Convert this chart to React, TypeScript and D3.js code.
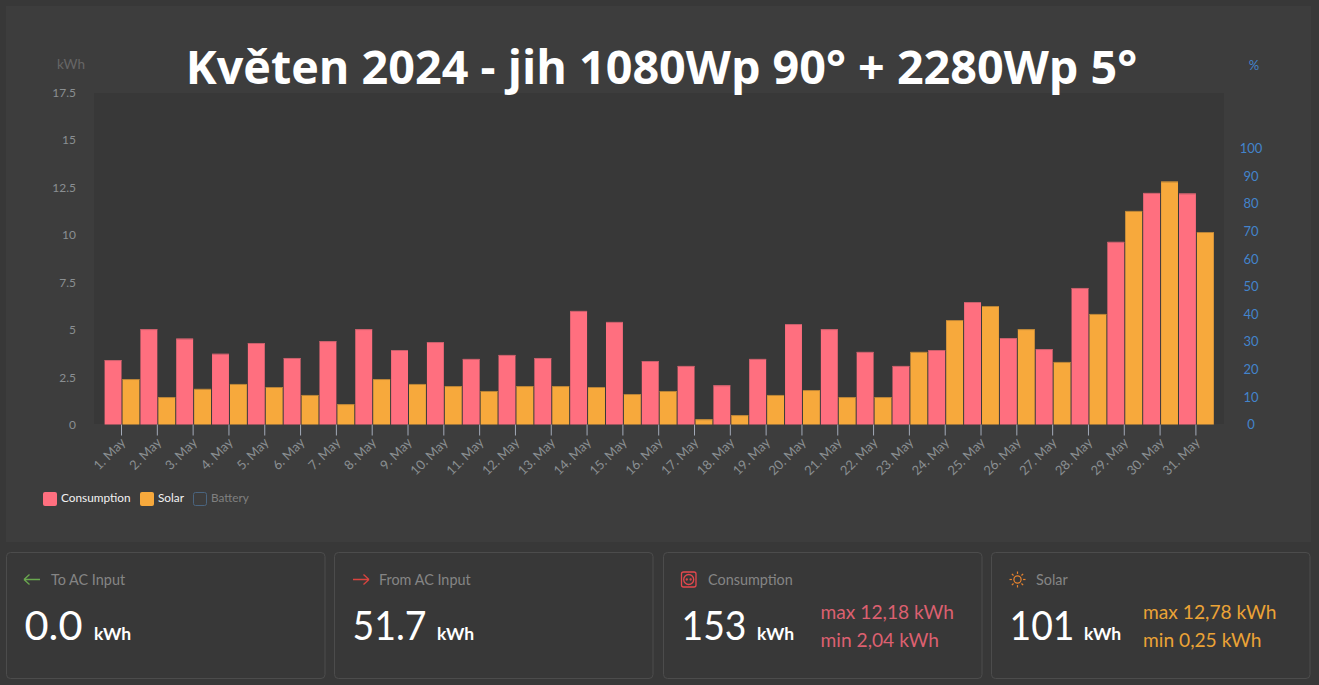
import React, { useEffect, useRef } from 'react'
import * as d3 from 'd3'

const days = d3.range(1, 32).map((d) => `${d}. May`)
const consumption = [
  3.37, 5.0, 4.5, 3.7, 4.27, 3.48, 4.37, 5.0, 3.9, 4.32, 3.43, 3.64, 3.48, 5.96, 5.38, 3.32, 3.06, 2.04, 3.43, 5.27,
  5.0, 3.8, 3.06, 3.9, 6.43, 4.53, 3.95, 7.17, 9.6, 12.18, 12.15,
]
const solar = [
  2.37, 1.42, 1.85, 2.11, 1.95, 1.53, 1.05, 2.37, 2.11, 2.0, 1.74, 2.0, 2.0, 1.95, 1.58, 1.74, 0.25, 0.47, 1.53, 1.79,
  1.42, 1.42, 3.8, 5.48, 6.22, 5.0, 3.27, 5.8, 11.23, 12.78, 10.12,
]
const kwhTicks = [0, 2.5, 5, 7.5, 10, 12.5, 15, 17.5]
const pctTicks = [0, 10, 20, 30, 40, 50, 60, 70, 80, 90, 100]
const series = [
  { name: 'Consumption', values: consumption, color: '#ff6f7f', edge: '#c9606c' },
  { name: 'Solar', values: solar, color: '#f7a93c', edge: '#b98438' },
]
const cards = [
  { x: 6, label: 'To AC Input', value: '0.0', valueWidth: 58, unitX: 88, icon: 'left' },
  { x: 334, label: 'From AC Input', value: '51.7', valueWidth: 74, unitX: 103, icon: 'right' },
  { x: 663, label: 'Consumption', value: '153', valueWidth: 65, unitX: 94, icon: 'plug', max: 'max 12,18 kWh', min: 'min 2,04 kWh', tone: '#dc6070' },
  { x: 991, label: 'Solar', value: '101', valueWidth: 65, unitX: 93, icon: 'sun', max: 'max 12,78 kWh', min: 'min 0,25 kWh', tone: '#eba336' },
]

const FONT = 'Lato, "Open Sans", sans-serif'

export default function App() {
  const ref = useRef<SVGSVGElement | null>(null)

  useEffect(() => {
    if (!ref.current) return
    const svg = d3.select(ref.current)
    svg.selectAll('*').remove()
    svg.attr('font-family', FONT)

    svg.append('rect').attr('width', 1319).attr('height', 685).attr('fill', '#383838')
    svg.append('rect').attr('x', 6).attr('y', 6).attr('width', 1305).attr('height', 536).attr('fill', '#3d3d3d')
    svg.append('rect').attr('x', 94).attr('y', 93).attr('width', 1130).attr('height', 331).attr('fill', '#383838')

    const x = d3.scaleBand<string>().domain(days).range([103.6, 1213.8])
    const inner = d3.scaleBand<string>().domain(series.map((s) => s.name)).range([0, x.bandwidth()])
    const y = d3.scaleLinear().domain([0, 17.5]).range([424, 92])
    const yPct = d3.scaleLinear().domain([0, 100]).range([424, 148])

    // bars
    series.forEach((s) => {
      const g = svg.append('g')
      g.selectAll('rect.bar')
        .data(s.values)
        .join('rect')
        .attr('class', 'bar')
        .attr('x', (_, i) => (x(days[i]) as number) + (inner(s.name) as number) + 1)
        .attr('y', (d) => y(d))
        .attr('width', inner.bandwidth() - 1)
        .attr('height', (d) => 424.5 - y(d))
        .attr('fill', s.color)
      g.selectAll('line.top')
        .data(s.values)
        .join('line')
        .attr('class', 'top')
        .attr('x1', (_, i) => (x(days[i]) as number) + (inner(s.name) as number) + 1)
        .attr('x2', (_, i) => (x(days[i]) as number) + (inner(s.name) as number) + inner.bandwidth())
        .attr('y1', (d) => y(d) + 0.5)
        .attr('y2', (d) => y(d) + 0.5)
        .attr('stroke', s.edge)
    })

    // x axis
    const xAxis = svg
      .append('g')
      .attr('transform', 'translate(0,424.5)')
      .call(d3.axisBottom(x).tickSize(11).tickPadding(4))
    xAxis.select('.domain').remove()
    xAxis.selectAll('.tick line').attr('stroke', '#a3aab8').attr('stroke-width', 1)
    xAxis
      .selectAll<SVGTextElement, string>('.tick text')
      .attr('font-family', FONT)
      .attr('font-size', 13)
      .attr('fill', '#8a8f92')
      .attr('text-anchor', 'end')
      .attr('dy', 0)
      .attr('x', 2)
      .attr('y', 20)
      .attr('transform', 'rotate(-45 2 16)')

    // y axes
    const yAxis = svg
      .append('g')
      .attr('transform', 'translate(76,0.7)')
      .call(d3.axisLeft(y).tickValues(kwhTicks).tickSize(0).tickPadding(0).tickFormat((d) => String(d)))
    yAxis.select('.domain').remove()
    yAxis.selectAll('text').attr('font-family', FONT).attr('font-size', 12).attr('fill', '#8a8f92')

    const pctAxis = svg
      .append('g')
      .attr('transform', 'translate(1251,0.6)')
      .call(d3.axisRight(yPct).tickValues(pctTicks).tickSize(0).tickPadding(0).tickFormat((d) => String(d)))
    pctAxis.select('.domain').remove()
    pctAxis
      .selectAll('text')
      .attr('font-family', FONT)
      .attr('font-size', 13)
      .attr('fill', '#4384cc')
      .attr('text-anchor', 'middle')

    svg.append('text').attr('x', 85).attr('y', 69).attr('text-anchor', 'end').attr('font-size', 13.5).attr('fill', '#666').text('kWh')
    svg.append('text').attr('x', 1254).attr('y', 70).attr('text-anchor', 'middle').attr('font-size', 13).attr('fill', '#4384cc').text('%')

    svg
      .append('text')
      .attr('x', 661.5)
      .attr('y', 84)
      .attr('text-anchor', 'middle')
      .attr('font-family', '"Open Sans", sans-serif')
      .attr('font-weight', 700)
      .attr('font-size', 46.7)
      .attr('fill', '#fff')
      .text('Květen 2024 - jih 1080Wp 90° + 2280Wp 5°')

    // legend
    const legend = svg.append('g').attr('font-size', 11.8)
    legend.append('rect').attr('x', 43).attr('y', 492).attr('width', 14).attr('height', 14).attr('rx', 2).attr('fill', '#ff6f7f')
    legend.append('text').attr('x', 61).attr('y', 502).attr('fill', '#f2f2f2').text('Consumption')
    legend.append('rect').attr('x', 140).attr('y', 492).attr('width', 14).attr('height', 14).attr('rx', 2).attr('fill', '#f7a93c')
    legend.append('text').attr('x', 158).attr('y', 502).attr('fill', '#f2f2f2').text('Solar')
    legend
      .append('rect')
      .attr('x', 193.5)
      .attr('y', 492.5)
      .attr('width', 13)
      .attr('height', 13)
      .attr('rx', 2)
      .attr('fill', 'none')
      .attr('stroke', '#4a6580')
    legend.append('text').attr('x', 211).attr('y', 502).attr('fill', '#808080').text('Battery')

    // stat cards
    cards.forEach((c) => {
      const g = svg.append('g').attr('transform', `translate(${c.x},552)`)
      g.append('rect')
        .attr('x', 0.5)
        .attr('y', 0.5)
        .attr('width', 318.5)
        .attr('height', 126)
        .attr('rx', 4)
        .attr('fill', '#383838')
        .attr('stroke', '#4c4c4c')

      g.append('text').attr('x', 45).attr('y', 33).attr('font-size', 14.4).attr('fill', '#858585').text(c.label)

      if (c.icon === 'left') {
        const ic = g.append('g').attr('fill', 'none').attr('stroke', '#6aa84f').attr('stroke-width', 1.3)
        ic.append('path').attr('d', 'M18 27.5H34M18 27.5l5.5-5M18 27.5l5.5 5')
      } else if (c.icon === 'right') {
        const ic = g.append('g').attr('fill', 'none').attr('stroke', '#d9443f').attr('stroke-width', 1.3)
        ic.append('path').attr('d', 'M19 27.5H35M35 27.5l-5.5-5M35 27.5l-5.5 5')
      } else if (c.icon === 'plug') {
        const ic = g.append('g').attr('fill', 'none').attr('stroke', '#e5484d').attr('stroke-width', 1.3)
        ic.append('rect').attr('x', 18.5).attr('y', 20).attr('width', 14.5).attr('height', 15).attr('rx', 2)
        ic.append('circle').attr('cx', 25.7).attr('cy', 27.5).attr('r', 5)
        ic.append('circle').attr('cx', 23.8).attr('cy', 27.5).attr('r', 0.5)
        ic.append('circle').attr('cx', 27.6).attr('cy', 27.5).attr('r', 0.5)
      } else {
        const ic = g.append('g').attr('fill', 'none').attr('stroke', '#e8842f').attr('stroke-width', 1.2)
        ic.append('circle').attr('cx', 26.5).attr('cy', 27.5).attr('r', 3.6)
        const angles = d3.range(0, 360, 45)
        ic.selectAll('line')
          .data(angles)
          .join('line')
          .attr('x1', (a) => 26.5 + 5.6 * Math.cos((a * Math.PI) / 180))
          .attr('y1', (a) => 27.5 + 5.6 * Math.sin((a * Math.PI) / 180))
          .attr('x2', (a) => 26.5 + 8 * Math.cos((a * Math.PI) / 180))
          .attr('y2', (a) => 27.5 + 8 * Math.sin((a * Math.PI) / 180))
      }

      g.append('text')
        .attr('x', 18.5)
        .attr('y', 88)
        .attr('font-size', 41)
        .attr('fill', '#fff')
        .attr('textLength', c.valueWidth)
        .attr('lengthAdjust', 'spacingAndGlyphs')
        .text(c.value)
      g.append('text')
        .attr('x', c.unitX)
        .attr('y', 88)
        .attr('font-size', 17.5)
        .attr('font-weight', 700)
        .attr('fill', '#fff')
        .text('kWh')

      if (c.max) {
        const sx = c.icon === 'plug' ? 157.5 : 152
        g.append('text').attr('x', sx).attr('y', 66.5).attr('font-size', 19.2).attr('fill', c.tone as string).text(c.max)
        g.append('text').attr('x', sx).attr('y', 94.5).attr('font-size', 19.2).attr('fill', c.tone as string).text(c.min as string)
      }
    })
  }, [])

  return <svg ref={ref} width={1319} height={685} style={{ position: 'absolute', left: 0, top: 0, display: 'block' }} />
}
